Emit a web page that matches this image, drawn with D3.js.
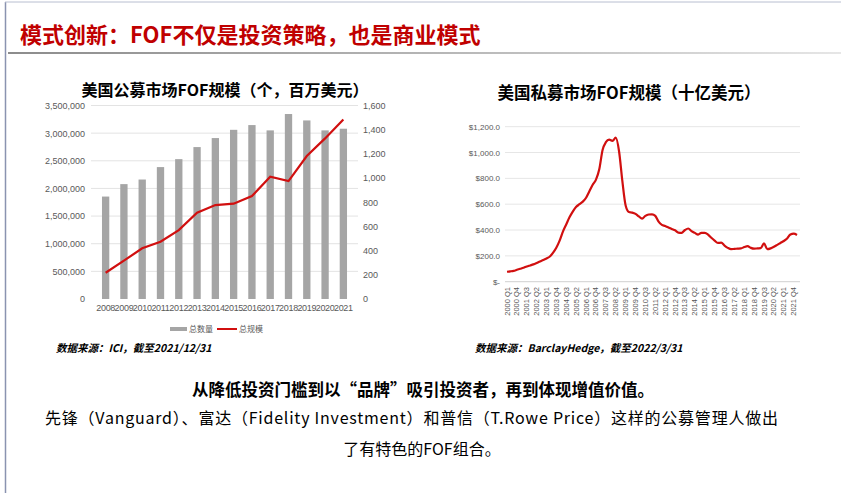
<!DOCTYPE html>
<html>
<head>
<meta charset="utf-8">
<script src="https://cdn.jsdelivr.net/npm/d3@7"></script>
<style>
  body { margin: 0; background: #fff; }
  svg { font-family: "Noto Sans CJK SC", "Liberation Sans", sans-serif; }
</style>
</head>
<body>
<div id="chart"></div>
<script>
// public FOF (left chart)
const years = ["2008", "2009", "2010", "2011", "2012", "2013", "2014", "2015", "2016", "2017", "2018", "2019", "2020", "2021"];
const fundCount = [1853000, 2078000, 2161000, 2386000, 2530000, 2748000, 2911000, 3060000, 3146000, 3050000, 3346000, 3230000, 3050000, 3080000];
const fundSize = [217, 317, 419, 474, 570, 713, 777, 788, 851, 1011, 975, 1182, 1328, 1485];
const leftTicks = [0, 500000, 1000000, 1500000, 2000000, 2500000, 3000000, 3500000];
const rightTicks = [0, 200, 400, 600, 800, 1000, 1200, 1400, 1600];

// private FOF (right chart), quarterly 2000 Q1 .. 2022 Q1
const privStart = 2000;
const privValues = [77, 80, 84, 92, 100, 108, 118, 126, 134, 145, 157, 168, 180, 195, 225, 265,
  320, 390, 445, 500, 545, 580, 600, 620, 650, 700, 750, 790, 870, 1020, 1080, 1100,
  1090, 1115, 1010, 780, 590, 540, 535, 525, 505, 488, 510, 520, 522, 510, 465, 440,
  432, 420, 408, 398, 380, 378, 400, 412, 392, 378, 365, 378, 378, 365, 340, 318,
  300, 302, 280, 262, 252, 254, 256, 258, 268, 276, 262, 256, 258, 260, 296, 252,
  258, 270, 285, 300, 315, 335, 365, 372, 362];
const privTicks = [0, 200, 400, 600, 800, 1000, 1200];

const width = 841, height = 493;
const red = "#d10f0f";

const svg = d3.select('#chart').append('svg')
  .attr('width', width)
  .attr('height', height);

// frame + header
svg.append('line').attr('x1', 5.5).attr('x2', 5.5).attr('y1', 2).attr('y2', height).attr('stroke', '#8a93b0').attr('stroke-width', 1.5);
svg.append('line').attr('x1', 5).attr('x2', width).attr('y1', 2).attr('y2', 2).attr('stroke', '#b8bed0').attr('stroke-width', 1);

svg.append('text')
  .attr('x', 20).attr('y', 43)
  .attr('fill', '#c00000')
  .style('font-size', '22px').style('font-weight', 'bold')
  .text('模式创新：FOF不仅是投资策略，也是商业模式');

const grad = svg.append('defs').append('linearGradient').attr('id', 'hr');
grad.append('stop').attr('offset', '0%').attr('stop-color', '#8c8c8c');
grad.append('stop').attr('offset', '60%').attr('stop-color', '#bdbdbd');
grad.append('stop').attr('offset', '100%').attr('stop-color', '#e6e6e6');
svg.append('rect').attr('x', 8).attr('y', 52).attr('width', 833).attr('height', 2).attr('fill', 'url(#hr)');

// ---------- left chart ----------
const x = d3.scaleBand().domain(years).range([91, 358]).padding(0.6);
const yL = d3.scaleLinear().domain([0, 3500000]).range([299, 105.5]);
const yR = d3.scaleLinear().domain([0, 1600]).range([299, 105.5]);

svg.append('text')
  .attr('x', 225).attr('y', 96)
  .attr('text-anchor', 'middle')
  .style('font-size', '16px').style('font-weight', 'bold')
  .text('美国公募市场FOF规模（个，百万美元）');

svg.append('g').selectAll('line')
  .data(leftTicks.slice(1))
  .enter().append('line')
  .attr('x1', 91).attr('x2', 358)
  .attr('y1', d => yL(d)).attr('y2', d => yL(d))
  .attr('stroke', '#e3e3e3');

const axL = svg.append('g')
  .attr('transform', 'translate(91,0)')
  .call(d3.axisLeft(yL).tickValues(leftTicks).tickFormat(d3.format(',')).tickSize(0).tickPadding(6));
const axR = svg.append('g')
  .attr('transform', 'translate(358,0)')
  .call(d3.axisRight(yR).tickValues(rightTicks).tickFormat(d3.format(',')).tickSize(0).tickPadding(5));
const axX = svg.append('g')
  .attr('transform', 'translate(0,299)')
  .call(d3.axisBottom(x).tickSize(0).tickPadding(6));
[axL, axR, axX].forEach(a => {
  a.select('.domain').remove();
  a.selectAll('text').attr('fill', '#595959').style('font-size', '9px').style('font-family', 'Liberation Sans, sans-serif');
});
axX.selectAll('text').style('letter-spacing', '-0.3px');

svg.append('g').selectAll('rect')
  .data(fundCount)
  .enter().append('rect')
  .attr('x', (d, i) => x(years[i]))
  .attr('width', x.bandwidth())
  .attr('y', d => yL(d))
  .attr('height', d => yL(0) - yL(d))
  .attr('fill', '#a5a5a5');

const lineL = d3.line()
  .x((d, i) => x(years[i]) + x.bandwidth() / 2)
  .y(d => yR(d));
svg.append('path')
  .datum(fundSize)
  .attr('d', lineL)
  .attr('fill', 'none')
  .attr('stroke', red)
  .attr('stroke-width', 2.2);

// legend
svg.append('rect').attr('x', 170).attr('y', 327).attr('width', 17).attr('height', 4).attr('fill', '#a5a5a5');
svg.append('text').attr('x', 189).attr('y', 332).attr('fill', '#595959').style('font-size', '8px').text('总数量');
svg.append('line').attr('x1', 217).attr('x2', 237).attr('y1', 329).attr('y2', 329).attr('stroke', red).attr('stroke-width', 2);
svg.append('text').attr('x', 239).attr('y', 332).attr('fill', '#595959').style('font-size', '8px').text('总规模');

svg.append('text')
  .attr('x', 56).attr('y', 352)
  .style('font-size', '10.5px').style('font-weight', 'bold').style('font-style', 'italic')
  .text('数据来源：ICI，截至2021/12/31');

// ---------- right chart ----------
const xP = d3.scaleLinear().domain([0, privValues.length - 1]).range([507, 797]);
const yP = d3.scaleLinear().domain([0, 1200]).range([281.7, 126.7]);

svg.append('text')
  .attr('x', 629).attr('y', 99)
  .attr('text-anchor', 'middle')
  .style('font-size', '16.5px').style('font-weight', 'bold')
  .text('美国私募市场FOF规模（十亿美元）');

svg.append('g').selectAll('line')
  .data(privTicks)
  .enter().append('line')
  .attr('x1', 505).attr('x2', 800)
  .attr('y1', d => yP(d)).attr('y2', d => yP(d))
  .attr('stroke', d => d === 0 ? '#d0d0d0' : '#e6e6e6');

const axP = svg.append('g')
  .attr('transform', 'translate(503,0)')
  .call(d3.axisLeft(yP).tickValues(privTicks)
    .tickFormat(d => d === 0 ? '$-' : '$' + d3.format(',.1f')(d))
    .tickSize(0).tickPadding(3));
axP.select('.domain').remove();
axP.selectAll('text').attr('fill', '#595959').style('font-size', '8px').style('font-family', 'Liberation Sans, sans-serif');

const qLabels = privValues.map((d, i) => (privStart + Math.floor(i / 4)) + ' Q' + (i % 4 + 1));
const shownIdx = d3.range(0, privValues.length - 1, 3);
svg.append('g').selectAll('text')
  .data(shownIdx)
  .enter().append('text')
  .attr('transform', i => 'translate(' + (xP(i) + 2.5) + ',287) rotate(-90)')
  .attr('text-anchor', 'end')
  .attr('fill', '#555')
  .style('font-size', '7.5px')
  .style('font-family', 'Liberation Sans, sans-serif')
  .text(i => qLabels[i]);

const lineP = d3.line()
  .x((d, i) => xP(i))
  .y(d => yP(d))
  .curve(d3.curveMonotoneX);
svg.append('path')
  .datum(privValues)
  .attr('d', lineP)
  .attr('fill', 'none')
  .attr('stroke', red)
  .attr('stroke-width', 2.2);

svg.append('text')
  .attr('x', 475).attr('y', 352)
  .style('font-size', '10.5px').style('font-weight', 'bold').style('font-style', 'italic')
  .text('数据来源：BarclayHedge，截至2022/3/31');

// ---------- bottom text ----------
svg.append('text')
  .attr('x', 423).attr('y', 396)
  .attr('text-anchor', 'middle')
  .style('font-size', '16.5px').style('font-weight', 'bold')
  .text('从降低投资门槛到以“品牌”吸引投资者，再到体现增值价值。');
svg.append('text')
  .attr('x', 45).attr('y', 424)
  .attr('textLength', 733)
  .attr('lengthAdjust', 'spacing')
  .style('font-size', '16px')
  .text('先锋（Vanguard）、富达（Fidelity Investment）和普信（T.Rowe Price）这样的公募管理人做出');
svg.append('text')
  .attr('x', 422).attr('y', 455)
  .attr('text-anchor', 'middle')
  .style('font-size', '16px')
  .text('了有特色的FOF组合。');
</script>
</body>
</html>
